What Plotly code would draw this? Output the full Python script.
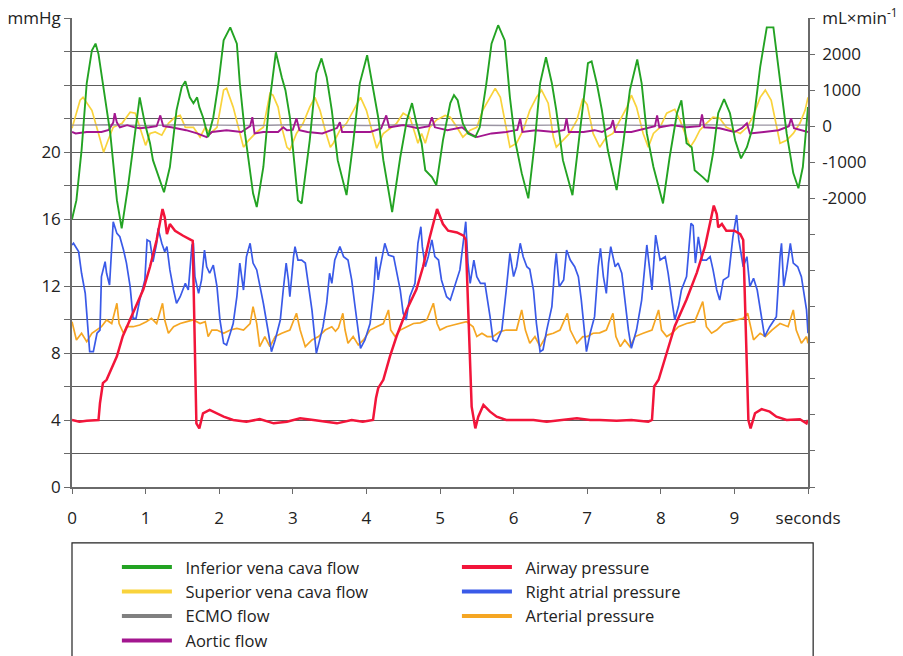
import plotly.graph_objects as go

# ---- time axis labels -------------------------------------------------------
x_tickvals = list(range(0, 11))
x_ticktext = ["0", "1", "2", "3", "4", "5", "6", "7", "8", "9", "seconds"]

# ---- pressures (mmHg, left axis): (seconds, value) -------------------------
airway_pressure = [
    (0.0, 4.0), (0.1, 3.9), (0.2, 3.95), (0.3, 4.0), (0.36, 4.0), (0.38, 5.0), (0.42, 6.2),
    (0.47, 6.4), (0.61, 7.8), (0.69, 9.0), (0.83, 10.4), (0.97, 11.8), (1.06, 13.15),
    (1.15, 14.75), (1.23, 16.6), (1.26, 16.1), (1.29, 15.1), (1.33, 15.7), (1.4, 15.3),
    (1.51, 15.0), (1.64, 14.7), (1.69, 3.8), (1.73, 3.5), (1.78, 4.4), (1.87, 4.6),
    (1.97, 4.4), (2.06, 4.2), (2.19, 4.0), (2.37, 3.9), (2.55, 4.05), (2.74, 3.8),
    (2.92, 3.9), (3.1, 4.1), (3.28, 4.0), (3.46, 3.9), (3.6, 3.8), (3.8, 4.0), (3.95, 3.9),
    (4.09, 4.0), (4.13, 5.3), (4.16, 5.9), (4.23, 6.4), (4.32, 7.8), (4.41, 9.0),
    (4.55, 10.6), (4.68, 11.8), (4.77, 13.15), (4.86, 14.9), (4.96, 16.6), (5.0, 16.1),
    (5.04, 15.7), (5.11, 15.3), (5.23, 15.2), (5.32, 15.0), (5.35, 14.75), (5.43, 4.8),
    (5.48, 3.5), (5.52, 4.2), (5.59, 4.9), (5.68, 4.5), (5.77, 4.2), (5.9, 4.0), (6.09, 4.0),
    (6.27, 4.0), (6.45, 3.9), (6.68, 4.0), (6.86, 4.1), (7.04, 4.0), (7.17, 4.0), (7.4, 3.95),
    (7.6, 4.0), (7.83, 3.9), (7.88, 4.0), (7.91, 6.0), (7.97, 6.4), (8.08, 8.0), (8.19, 9.6),
    (8.35, 11.2), (8.49, 12.8), (8.6, 14.35), (8.67, 15.7), (8.72, 16.8), (8.76, 16.3),
    (8.78, 15.5), (8.83, 15.7), (8.89, 15.3), (9.0, 15.3), (9.08, 15.1), (9.12, 14.75),
    (9.19, 4.0), (9.22, 3.5), (9.28, 4.4), (9.37, 4.65), (9.48, 4.5), (9.57, 4.2), (9.71, 4.0),
    (9.89, 4.05), (9.98, 3.8), (10.0, 4.0),
]

right_atrial_pressure = [
    (0.0, 14.45), (0.02, 14.55), (0.09, 14.05), (0.13, 12.76), (0.18, 11.56), (0.22, 8.98),
    (0.24, 8.08), (0.29, 8.08), (0.34, 9.18), (0.38, 9.37), (0.4, 12.56), (0.45, 13.45),
    (0.47, 12.76), (0.51, 12.06), (0.54, 14.75), (0.56, 15.84), (0.61, 15.14), (0.65, 14.94),
    (0.7, 14.15), (0.74, 13.37), (0.79, 11.96), (0.83, 10.07), (0.87, 10.07), (0.92, 11.16),
    (0.99, 12.36), (1.02, 14.75), (1.06, 14.65), (1.1, 13.45), (1.15, 14.55), (1.17, 15.44),
    (1.22, 14.55), (1.26, 14.05), (1.29, 14.35), (1.33, 12.96), (1.38, 11.76), (1.42, 10.97),
    (1.47, 11.36), (1.54, 12.16), (1.58, 11.76), (1.63, 14.45), (1.65, 14.5), (1.67, 12.56),
    (1.72, 11.56), (1.76, 12.36), (1.8, 14.15), (1.83, 13.15), (1.87, 12.76), (1.92, 13.25),
    (1.97, 11.96), (2.01, 9.97), (2.06, 8.58), (2.1, 8.48), (2.15, 9.18), (2.19, 9.76),
    (2.24, 11.36), (2.28, 13.37), (2.33, 11.76), (2.37, 13.75), (2.42, 14.55), (2.46, 13.37),
    (2.51, 12.96), (2.55, 12.16), (2.6, 10.97), (2.67, 9.18), (2.71, 8.08), (2.76, 8.78),
    (2.83, 9.97), (2.87, 11.76), (2.91, 13.37), (2.94, 12.36), (2.96, 11.36), (3.01, 13.75),
    (3.03, 14.35), (3.07, 13.55), (3.12, 13.55), (3.17, 13.37), (3.21, 12.16), (3.26, 10.57),
    (3.32, 7.98), (3.41, 9.57), (3.46, 10.97), (3.5, 12.76), (3.53, 12.16), (3.57, 13.55),
    (3.64, 14.35), (3.69, 13.75), (3.75, 13.55), (3.8, 12.36), (3.84, 10.97), (3.89, 9.18),
    (3.92, 8.28), (3.98, 8.78), (4.05, 9.76), (4.1, 11.76), (4.13, 13.75), (4.16, 12.36),
    (4.18, 12.96), (4.25, 14.55), (4.3, 13.85), (4.37, 13.75), (4.41, 12.76), (4.46, 11.76),
    (4.5, 10.37), (4.54, 9.97), (4.59, 11.36), (4.66, 12.16), (4.7, 14.55), (4.74, 15.54),
    (4.76, 14.35), (4.8, 13.15), (4.84, 13.75), (4.89, 14.75), (4.93, 13.75), (4.98, 13.55),
    (5.02, 12.36), (5.09, 11.36), (5.14, 11.16), (5.2, 11.96), (5.27, 12.96), (5.32, 14.75),
    (5.35, 15.84), (5.38, 13.37), (5.41, 12.16), (5.46, 13.55), (5.5, 12.56), (5.55, 12.16),
    (5.61, 12.16), (5.68, 10.17), (5.72, 8.78), (5.77, 8.68), (5.84, 9.37), (5.9, 11.76),
    (5.95, 13.95), (6.0, 12.56), (6.04, 13.15), (6.09, 14.55), (6.13, 13.75), (6.18, 13.15),
    (6.22, 13.0), (6.27, 11.76), (6.31, 9.76), (6.36, 8.08), (6.4, 8.2), (6.45, 9.37),
    (6.52, 10.77), (6.56, 13.15), (6.58, 13.95), (6.62, 11.96), (6.68, 12.36), (6.72, 14.15),
    (6.77, 13.55), (6.83, 13.15), (6.88, 12.56), (6.92, 11.16), (6.96, 9.37), (6.99, 8.08),
    (7.04, 9.18), (7.1, 10.17), (7.15, 13.15), (7.18, 14.25), (7.22, 12.56), (7.26, 11.56),
    (7.29, 13.37), (7.32, 14.35), (7.38, 13.15), (7.42, 13.37), (7.47, 12.76), (7.51, 11.16),
    (7.56, 9.37), (7.6, 8.28), (7.67, 9.37), (7.74, 11.16), (7.79, 13.55), (7.81, 14.45),
    (7.85, 12.96), (7.88, 11.76), (7.93, 15.04), (7.99, 13.55), (8.06, 13.75), (8.1, 12.76),
    (8.15, 11.16), (8.19, 9.97), (8.24, 10.77), (8.28, 11.76), (8.35, 12.56), (8.41, 15.74),
    (8.44, 15.6), (8.47, 13.37), (8.51, 14.94), (8.56, 13.55), (8.62, 13.55), (8.67, 13.75),
    (8.71, 12.96), (8.76, 11.76), (8.8, 11.16), (8.85, 12.36), (8.92, 12.56), (8.98, 14.94),
    (9.03, 16.24), (9.06, 14.75), (9.12, 13.15), (9.17, 13.75), (9.21, 11.96), (9.26, 12.46),
    (9.31, 11.76), (9.37, 10.17), (9.41, 8.98), (9.48, 9.57), (9.57, 10.17), (9.62, 13.75),
    (9.64, 14.55), (9.67, 11.96), (9.71, 12.96), (9.76, 14.55), (9.8, 13.37), (9.86, 13.15),
    (9.91, 12.56), (9.98, 10.57), (10.0, 9.18),
]

arterial_pressure = [
    (0.0, 9.87), (0.06, 8.78), (0.13, 9.18), (0.2, 8.68), (0.27, 9.18), (0.34, 9.37),
    (0.4, 9.57), (0.47, 9.97), (0.54, 9.76), (0.61, 10.97), (0.64, 9.76), (0.7, 9.18),
    (0.74, 9.57), (0.83, 9.57), (0.92, 9.67), (1.01, 9.87), (1.08, 10.07), (1.15, 9.76),
    (1.23, 10.97), (1.26, 9.97), (1.31, 9.18), (1.38, 9.57), (1.47, 9.76), (1.56, 9.87),
    (1.65, 9.97), (1.74, 9.76), (1.81, 9.87), (1.85, 8.98), (1.9, 9.37), (1.97, 9.37),
    (2.06, 9.18), (2.15, 9.37), (2.24, 9.47), (2.33, 9.37), (2.42, 9.76), (2.46, 10.77),
    (2.51, 9.76), (2.55, 8.38), (2.62, 8.98), (2.69, 8.38), (2.76, 8.98), (2.85, 9.18),
    (2.96, 9.37), (3.05, 10.37), (3.1, 9.37), (3.17, 8.38), (3.26, 8.78), (3.35, 8.98),
    (3.44, 9.37), (3.53, 9.57), (3.58, 9.3), (3.62, 9.5), (3.68, 10.37), (3.71, 9.37),
    (3.75, 8.58), (3.82, 8.98), (3.89, 8.48), (3.96, 8.78), (4.05, 9.37), (4.14, 9.57),
    (4.23, 9.76), (4.3, 10.57), (4.33, 9.37), (4.39, 8.98), (4.46, 9.37), (4.55, 9.57),
    (4.64, 9.76), (4.73, 9.8), (4.82, 9.97), (4.91, 10.97), (4.96, 9.76), (5.0, 9.37),
    (5.09, 9.57), (5.18, 9.67), (5.27, 9.76), (5.36, 9.87), (5.45, 9.57), (5.5, 8.98),
    (5.57, 9.18), (5.64, 8.98), (5.72, 8.98), (5.81, 9.27), (5.9, 9.37), (6.04, 9.37),
    (6.11, 10.57), (6.16, 9.37), (6.22, 8.58), (6.29, 8.98), (6.36, 8.38), (6.45, 9.07),
    (6.54, 9.18), (6.63, 9.37), (6.73, 10.37), (6.77, 9.37), (6.86, 8.58), (6.94, 8.98),
    (7.0, 8.98), (7.08, 9.18), (7.17, 9.2), (7.26, 9.37), (7.35, 10.37), (7.39, 8.98),
    (7.45, 8.38), (7.51, 8.78), (7.58, 8.38), (7.65, 8.98), (7.76, 9.18), (7.88, 9.37),
    (7.97, 10.57), (8.01, 9.37), (8.08, 8.98), (8.15, 9.18), (8.24, 9.57), (8.35, 9.76),
    (8.46, 9.87), (8.57, 11.07), (8.62, 9.57), (8.69, 9.18), (8.76, 9.37), (8.85, 9.76),
    (8.94, 9.87), (9.03, 9.97), (9.12, 10.07), (9.18, 10.37), (9.21, 9.76), (9.26, 8.78),
    (9.35, 9.18), (9.42, 8.98), (9.51, 9.37), (9.62, 9.76), (9.73, 9.57), (9.8, 10.57),
    (9.84, 9.37), (9.91, 8.58), (9.98, 8.98), (10.0, 8.58),
]

# ---- flows (mL/min, right axis): (seconds, value) ---------------------------
ivc_flow = [
    (0.0, -2580), (0.06, -2050), (0.13, -660), (0.2, 1190), (0.27, 2100), (0.32, 2290),
    (0.36, 2000), (0.42, 1190), (0.52, -200), (0.61, -2050), (0.675, -2830), (0.76, -1690),
    (0.86, -200), (0.92, 800), (0.99, 80), (1.06, -470), (1.1, -940), (1.2, -1500),
    (1.25, -1830), (1.33, -1130), (1.42, 440), (1.49, 1080), (1.54, 1250), (1.6, 800),
    (1.65, 640), (1.7, 800), (1.73, 530), (1.78, 250), (1.85, -300), (1.92, 250), (1.99, 1190),
    (2.06, 2380), (2.15, 2740), (2.24, 2290), (2.28, 1190), (2.35, -200), (2.42, -1300),
    (2.46, -1860), (2.51, -2240), (2.6, -1130), (2.67, 440), (2.77, 2050), (2.85, 1360),
    (2.9, 1000), (2.96, 250), (3.07, -2050), (3.12, -2140), (3.23, -390), (3.32, 1470),
    (3.39, 1880), (3.46, 1360), (3.53, 440), (3.61, -940), (3.73, -1910), (3.82, -470),
    (3.91, 1190), (4.01, 1970), (4.09, 1080), (4.16, 250), (4.23, -940), (4.35, -2380),
    (4.46, -860), (4.55, 170), (4.62, 640), (4.68, 80), (4.75, -470), (4.8, -1220),
    (4.89, -1410), (4.95, -1630), (5.04, -390), (5.14, 640), (5.19, 860), (5.24, 720),
    (5.31, 80), (5.38, -200), (5.48, -300), (5.54, -30), (5.63, 1190), (5.7, 2290),
    (5.79, 2800), (5.88, 2380), (5.95, 800), (6.02, -390), (6.11, -1300), (6.2, -2000),
    (6.29, -390), (6.36, 1190), (6.44, 1910), (6.52, 1190), (6.58, 440), (6.67, -940),
    (6.8, -1910), (6.9, -200), (7.01, 1750), (7.06, 1800), (7.13, 1190), (7.2, 440),
    (7.28, -660), (7.4, -1770), (7.49, -470), (7.58, 1000), (7.68, 1850), (7.74, 1190),
    (7.81, -200), (7.9, -1130), (8.03, -2140), (8.12, -860), (8.22, 360), (8.28, 720),
    (8.35, -470), (8.42, -580), (8.46, -1220), (8.57, -1410), (8.64, -1550), (8.71, -750),
    (8.78, 360), (8.86, 750), (8.94, 360), (9.01, -390), (9.09, -890), (9.17, -580),
    (9.25, -30), (9.35, 1640), (9.44, 2740), (9.53, 2740), (9.62, 1190), (9.71, -200),
    (9.8, -1300), (9.87, -1720), (9.93, -1130), (10.0, 530),
]

svc_flow = [
    (0.0, -55), (0.11, 720), (0.15, 800), (0.27, 440), (0.36, -200), (0.43, -720),
    (0.49, -390), (0.56, -30), (0.68, 80), (0.79, 390), (0.86, 360), (0.92, -30), (1.0, -530),
    (1.06, -200), (1.13, -160), (1.22, -250), (1.31, 80), (1.4, 250), (1.47, 300),
    (1.54, -30), (1.65, -30), (1.74, -300), (1.81, -30), (1.88, -200), (1.97, -30),
    (2.06, 1000), (2.1, 1050), (2.19, 530), (2.26, -30), (2.33, -580), (2.4, -390),
    (2.51, -160), (2.6, -30), (2.69, 910), (2.73, 860), (2.8, 530), (2.85, -30), (2.92, -580),
    (2.96, -660), (3.05, -200), (3.14, 80), (3.23, 530), (3.3, 800), (3.37, 440),
    (3.44, -110), (3.51, -580), (3.55, -470), (3.64, -110), (3.73, 80), (3.85, 530),
    (3.92, 800), (4.0, 440), (4.07, -110), (4.14, -610), (4.23, -200), (4.32, -55),
    (4.41, 80), (4.5, 360), (4.59, 250), (4.66, -200), (4.7, -470), (4.75, -200),
    (4.8, -470), (4.86, -30), (4.95, 170), (5.07, 300), (5.14, 250), (5.23, -30),
    (5.31, -300), (5.41, -110), (5.5, -30), (5.58, 440), (5.68, 800), (5.75, 1050),
    (5.82, 800), (5.88, 170), (5.95, -580), (6.04, -470), (6.13, -110), (6.22, 440),
    (6.31, 800), (6.38, 1000), (6.47, 640), (6.54, -300), (6.58, -580), (6.67, -390),
    (6.76, -200), (6.86, 170), (6.94, 760), (7.0, 600), (7.08, -200), (7.17, -580),
    (7.26, -300), (7.35, -200), (7.45, 170), (7.54, 530), (7.6, 860), (7.67, 530),
    (7.76, -200), (7.83, -580), (7.9, -200), (7.99, -30), (8.08, 360), (8.19, 470),
    (8.26, 170), (8.33, -200), (8.4, -580), (8.46, -390), (8.53, -110), (8.62, 80),
    (8.71, 250), (8.8, 220), (8.89, -30), (8.98, -110), (9.08, -200), (9.17, -30),
    (9.25, 250), (9.35, 800), (9.42, 1000), (9.5, 720), (9.57, -30), (9.62, -470),
    (9.71, -390), (9.8, -200), (9.89, 80), (9.96, 440), (10.0, 800),
]

ecmo_flow = [
    (0.0, 30), (0.5, 40), (1.0, 20), (1.5, 40), (2.0, 30), (2.5, 20), (3.0, 40), (3.5, 30),
    (4.0, 20), (4.5, 40), (5.0, 30), (5.5, 40), (6.0, 20), (6.5, 30), (7.0, 40), (7.5, 30),
    (8.0, 20), (8.5, 40), (9.0, 30), (9.5, 20), (10.0, 30),
]

aortic_flow = [
    (0.0, -160), (0.05, -200), (0.2, -160), (0.4, -160), (0.5, -100), (0.56, 100),
    (0.58, 360), (0.61, 100), (0.65, -30), (0.75, 30), (0.85, -30), (0.92, -55), (1.05, -30),
    (1.15, 0), (1.2, 300), (1.24, 0), (1.35, -30), (1.55, -110), (1.7, -200), (1.83, -300),
    (1.9, -160), (2.1, -110), (2.3, -160), (2.42, 0), (2.45, 250), (2.48, -200), (2.6, -160),
    (2.8, -160), (2.87, -30), (2.92, -110), (3.0, -100), (3.05, 220), (3.09, -110),
    (3.2, -160), (3.4, -200), (3.6, -50), (3.64, 110), (3.67, -160), (3.85, -160),
    (4.05, -160), (4.2, -60), (4.27, 300), (4.31, -30), (4.5, 30), (4.7, -55), (4.85, 0),
    (4.89, 250), (4.93, -30), (5.1, -110), (5.3, -30), (5.4, -200), (5.5, -300), (5.7, -200),
    (5.9, -160), (6.05, -100), (6.09, 220), (6.12, -160), (6.3, -110), (6.55, -160),
    (6.69, -100), (6.72, 220), (6.75, -160), (6.95, -160), (7.1, -110), (7.2, -160),
    (7.32, -30), (7.35, 170), (7.38, -160), (7.6, -160), (7.8, -60), (7.92, 0), (7.95, 300),
    (7.98, -30), (8.15, 30), (8.35, -30), (8.53, 0), (8.56, 330), (8.59, -30), (8.8, -55),
    (9.0, -160), (9.1, -55), (9.17, 80), (9.21, -200), (9.4, -160), (9.6, -110), (9.74, 0),
    (9.77, 220), (9.81, -55), (9.9, -110), (10.0, -160),
]

# ---- series styling ---------------------------------------------------------
flow_series = [
    ("Superior vena cava flow", svc_flow, "#f9d33c", 1.7, 2),
    ("ECMO flow", ecmo_flow, "#9a94a2", 1.4, 3),
    ("Aortic flow", aortic_flow, "#a3168f", 1.9, 4),
    ("Inferior vena cava flow", ivc_flow, "#23a323", 1.9, 1),
]
pressure_series = [
    ("Arterial pressure", arterial_pressure, "#f5a623", 1.7, 3),
    ("Right atrial pressure", right_atrial_pressure, "#3a5ae8", 1.7, 2),
    ("Airway pressure", airway_pressure, "#f2153a", 2.5, 1),
]
legend_colors = {
    "ECMO flow": "#808080",
}
LEGEND_PAD = "\u00a0\u00a0"  # small gap between key stroke and label

fig = go.Figure()

for name, pts, color, width, rank in pressure_series:
    fig.add_trace(go.Scatter(
        x=[p[0] for p in pts], y=[p[1] for p in pts], mode="lines",
        line=dict(color=color, width=width), name=name, showlegend=False,
        yaxis="y", hoverinfo="skip",
    ))
for name, pts, color, width, rank in flow_series:
    fig.add_trace(go.Scatter(
        x=[p[0] for p in pts], y=[p[1] for p in pts], mode="lines",
        line=dict(color=color, width=width), name=name, showlegend=False,
        yaxis="y2", hoverinfo="skip",
    ))

# legend keys (thicker strokes than the traces)
for name, pts, color, width, rank in flow_series:
    fig.add_trace(go.Scatter(
        x=[None], y=[None], mode="lines", name=LEGEND_PAD + name, legend="legend",
        line=dict(color=legend_colors.get(name, color), width=4),
        legendrank=rank, legendgroup=name, yaxis="y2",
    ))
for name, pts, color, width, rank in pressure_series:
    fig.add_trace(go.Scatter(
        x=[None], y=[None], mode="lines", name=LEGEND_PAD + name, legend="legend2",
        line=dict(color=color, width=4),
        legendrank=rank, legendgroup=name,
    ))

# ---- axes -------------------------------------------------------------------
left_vals = list(range(0, 29, 2))
left_text = ["0", "", "4", "", "8", "", "12", "", "16", "", "20", "", "", "", "mmHg"]
right_vals = list(range(-10000, 3001, 1000))
right_text = [""] * 8 + ["-2000", "-1000", "0", "1000", "2000", "mL×min<sup>-1</sup>"]

tick_font = dict(family="Open Sans, sans-serif", size=17, color="#222222")
legend_font = dict(family="Open Sans, sans-serif", size=16.5, color="#222222")
axis_color = "#6a6a6a"

fig.update_layout(
    width=903, height=656,
    margin=dict(l=72, r=95, t=18, b=169, autoexpand=False),
    paper_bgcolor="white", plot_bgcolor="white",
    showlegend=True,
    xaxis=dict(
        range=[0, 10], tickmode="array", tickvals=x_tickvals, ticktext=x_ticktext,
        ticks="outside", ticklen=5, tickcolor=axis_color, showgrid=False, zeroline=False,
        showline=True, linecolor=axis_color, linewidth=1.5, tickfont=tick_font,
        ticklabelstandoff=10,
    ),
    yaxis=dict(
        range=[0, 28], tickmode="array", tickvals=left_vals, ticktext=left_text,
        ticks="outside", ticklen=6, tickcolor=axis_color, showgrid=True,
        gridcolor="#5c5c5c", gridwidth=1.2, zeroline=False, showline=True,
        linecolor=axis_color, linewidth=1.5, tickfont=tick_font,
    ),
    yaxis2=dict(
        range=[-10000, 3000], overlaying="y", side="right", tickmode="array",
        tickvals=right_vals, ticktext=right_text, ticks="outside", ticklen=5,
        tickcolor=axis_color, showgrid=False, zeroline=False, showline=True,
        linecolor=axis_color, linewidth=1.5, tickfont=tick_font,
        ticklabelstandoff=4,
    ),
    legend=dict(
        x=0.061, y=-0.134, xanchor="left", yanchor="top", orientation="v",
        traceorder="grouped", tracegroupgap=0, itemwidth=50, bgcolor="rgba(0,0,0,0)",
        font=legend_font,
    ),
    legend2=dict(
        x=0.523, y=-0.134, xanchor="left", yanchor="top", orientation="v",
        traceorder="grouped", tracegroupgap=0, itemwidth=50, bgcolor="rgba(0,0,0,0)",
        font=legend_font,
    ),
    shapes=[
        dict(type="rect", xref="paper", yref="paper", x0=0.0, x1=1.007,
             y0=-0.45, y1=-0.119, line=dict(color="#222222", width=1.2),
             fillcolor="rgba(0,0,0,0)", layer="below"),
    ],
)

fig.write_html("out.html")
